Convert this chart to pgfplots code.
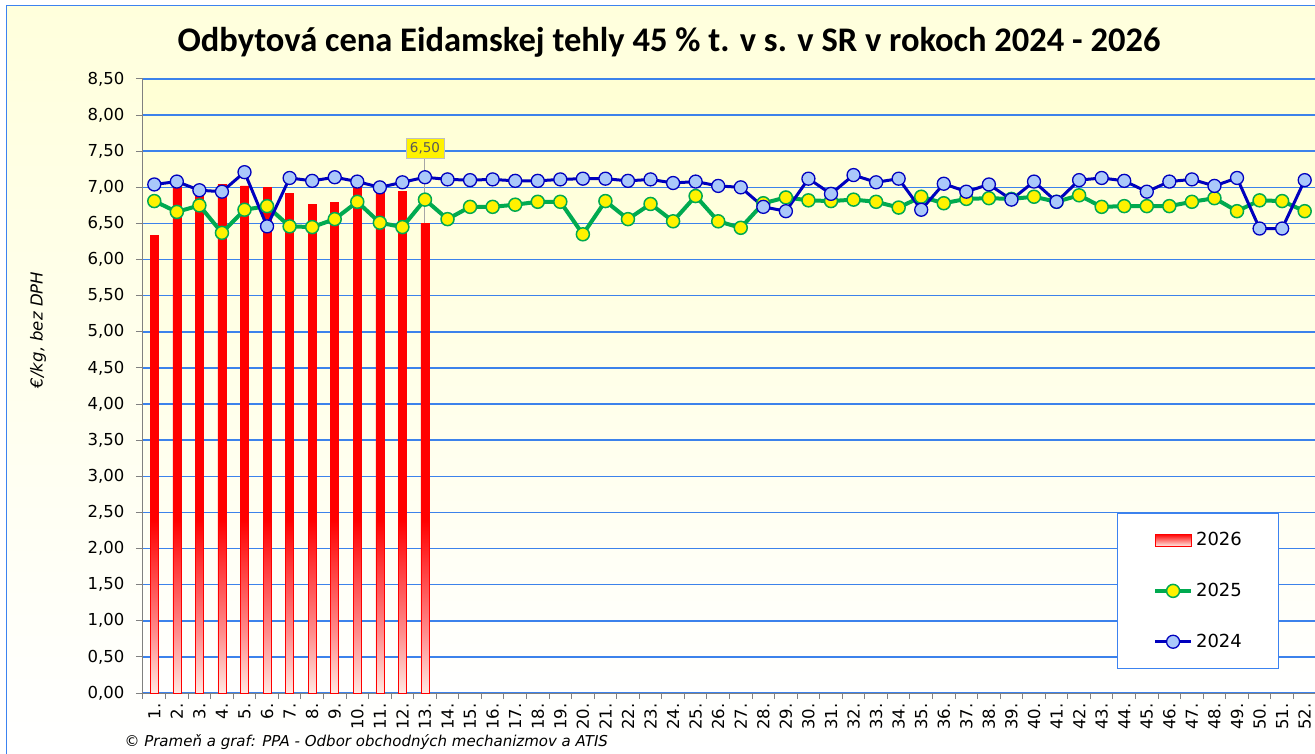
\documentclass[border=0pt]{standalone}
\usepackage{fontspec}
\setmainfont{DejaVu Sans}
\newfontfamily\titlefont{Carlito}
\usepackage{pgfplots}
\pgfplotsset{compat=1.18}

\definecolor{bgyel}{RGB}{255,255,220}
\definecolor{plotyel}{RGB}{255,255,212}
\definecolor{gridblue}{RGB}{60,130,235}
\definecolor{borderblue}{RGB}{60,130,240}
\definecolor{line24}{RGB}{0,0,190}
\definecolor{fill24}{RGB}{170,200,250}
\definecolor{line25}{RGB}{0,170,80}
\definecolor{barred}{RGB}{255,0,0}
\definecolor{barlight}{RGB}{255,232,225}
\definecolor{axisgray}{RGB}{128,128,128}

\pgfdeclareverticalshading{barshade}{100bp}{color(0bp)=(barlight); color(25bp)=(barlight); color(31bp)=(barred!45!white); color(42bp)=(barred); color(100bp)=(barred)}

\pgfplotsset{
  linelegend/.style={legend image code/.code={\draw[mark repeat=2, mark phase=2, ##1] plot coordinates {(0pt,0pt) (18pt,0pt) (36pt,0pt)};}},
  barlegend/.style={legend image code/.code={\draw[draw=barred, line width=0.6pt, top color=barred, bottom color=barlight] (0pt,-6pt) rectangle (36pt,6pt);}},
}

\begin{document}
\begin{tikzpicture}[x=1pt,y=1pt]
\useasboundingbox (0,0) rectangle (1315,753);
\fill[white] (0,0) rectangle (1315,753);
\shade[top color=bgyel, bottom color=white] (6.5,0) rectangle (1315,747.5);
\draw[borderblue, line width=1.5pt] (6.5,-5) -- (6.5,747.5) -- (1330,747.5);

\node[font=\titlefont\bfseries\fontsize{34.5}{40}\selectfont] at (669,711)
  {Odbytová cena Eidamskej tehly 45 \% t. v s. v SR v rokoch 2024 - 2026};
\node[rotate=90, font=\itshape\fontsize{16.5}{18}\selectfont] at (38,423) {€/kg, bez DPH};
\node[anchor=west, font=\itshape\fontsize{15}{18}\selectfont] at (121,11)
  {© Prameň a graf: PPA - Odbor obchodných mechanizmov a ATIS};

\begin{axis}[
  at={(143pt,60pt)}, anchor=south west,
  scale only axis, width=1173pt, height=614pt,
  xmin=0.5, xmax=52.5, ymin=0, ymax=8.5,
  ytick={0,0.5,...,8.5},
  xtick={1,...,52},
  minor xtick={0.5,1.5,...,52.5},
  xticklabel={\pgfmathtruncatemacro\tmp{\tick}\tmp.},
  x tick label style={rotate=90, anchor=east},
  y tick label style={xshift=-8pt},
  /pgf/number format/fixed, /pgf/number format/fixed zerofill,
  /pgf/number format/precision=2, /pgf/number format/use comma,
  /pgf/number format/assume math mode=true,
  tick label style={font=\fontsize{16.5}{18}\selectfont},
  axis x line*=bottom, axis y line*=left,
  axis line style={axisgray, line width=1pt},
  tick align=outside,
  major tick length=7pt, minor tick length=6pt,
  tick style={axisgray, line width=1pt},
  major x tick style={draw=none},
  ymajorgrids,
  major grid style={gridblue, line width=1.5pt},
  axis background/.style={shade, top color=plotyel, bottom color=white},
  legend cell align=left,
  legend style={at={(rel axis cs:0.830,0.293)}, anchor=north west,
    draw=borderblue, line width=1pt, fill=white,
    inner xsep=36pt, inner ysep=18pt, row sep=34pt, column sep=2pt,
    font=\fontsize{18}{20}\selectfont, nodes={inner sep=1pt}},
]
\addplot[ybar, bar width=8pt, bar shift=0pt, draw=barred, line width=0.6pt,
  shading=barshade, barlegend]
  coordinates {(1,6.34) (2,7.00) (3,6.88) (4,7.04) (5,7.02) (6,7.00) (7,6.92)
   (8,6.76) (9,6.79) (10,7.00) (11,6.94) (12,6.94) (13,6.50)};
\addlegendentry{2026}

\addplot[line25, line width=4pt, mark=*, mark size=6.5pt,
  mark options={fill=yellow, draw=line25, line width=1.5pt}, linelegend]
  coordinates {(1,6.81) (2,6.66) (3,6.75) (4,6.37) (5,6.69) (6,6.74) (7,6.46)
   (8,6.45) (9,6.56) (10,6.80) (11,6.51) (12,6.45) (13,6.83) (14,6.56)
   (15,6.73) (16,6.73) (17,6.76) (18,6.80) (19,6.80) (20,6.35) (21,6.81)
   (22,6.56) (23,6.77) (24,6.53) (25,6.88) (26,6.53) (27,6.44) (28,6.78)
   (29,6.86) (30,6.82) (31,6.81) (32,6.83) (33,6.80) (34,6.72) (35,6.87)
   (36,6.78) (37,6.84) (38,6.85) (39,6.84) (40,6.87) (41,6.80) (42,6.89)
   (43,6.73) (44,6.74) (45,6.74) (46,6.74) (47,6.80) (48,6.85) (49,6.67)
   (50,6.82) (51,6.81) (52,6.67)};
\addlegendentry{2025}

\addplot[line24, line width=3pt, mark=*, mark size=6.5pt,
  mark options={fill=fill24, draw=line24, line width=1.3pt}, linelegend]
  coordinates {(1,7.04) (2,7.08) (3,6.96) (4,6.94) (5,7.21) (6,6.46) (7,7.13)
   (8,7.09) (9,7.14) (10,7.08) (11,7.00) (12,7.07) (13,7.14) (14,7.11)
   (15,7.10) (16,7.11) (17,7.09) (18,7.09) (19,7.11) (20,7.12) (21,7.12)
   (22,7.09) (23,7.11) (24,7.06) (25,7.08) (26,7.02) (27,7.00) (28,6.73)
   (29,6.67) (30,7.12) (31,6.91) (32,7.17) (33,7.07) (34,7.12) (35,6.69)
   (36,7.05) (37,6.94) (38,7.04) (39,6.83) (40,7.08) (41,6.80) (42,7.10)
   (43,7.13) (44,7.09) (45,6.94) (46,7.08) (47,7.11) (48,7.02) (49,7.13)
   (50,6.43) (51,6.43) (52,7.10)};
\addlegendentry{2024}

\draw[gray!70, line width=1pt] (axis cs:13,6.5) -- (axis cs:13,7.40);
\node[fill=yellow, draw=gray!50, line width=0.8pt, text=black!65,
  font=\fontsize{13.5}{15}\selectfont, inner xsep=4pt, inner ysep=4pt]
  at (axis cs:13,7.54) {6,50};
\end{axis}
\end{tikzpicture}
\end{document}
